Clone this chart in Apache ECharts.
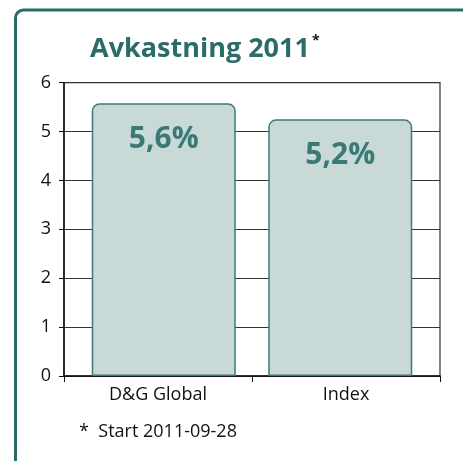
<!DOCTYPE html>
<html><head><meta charset="utf-8">
<script src="https://cdn.jsdelivr.net/npm/echarts@6/dist/echarts.min.js"></script>
<style>html,body{margin:0;padding:0;background:#fff}#c{width:463px;height:461px}</style>
</head><body><div id="c"></div>
<script>
var categories = ['D&G Global', 'Index'];
var fundValues = [5.58, '-'];
var indexValues = ['-', 5.25];
var valueLabels = ['5,6%', '5,2%'];
var yTicks = [0, 1, 2, 3, 4, 5, 6];
var titleText = 'Avkastning 2011';
var footnote = '*  Start 2011-09-28';

var teal = '#2b6b68';
var FONT = 'Open Sans';
var chart = echarts.init(document.getElementById('c'));
function barSeries(data) {
  return {
    type: 'bar', data: data, barWidth: 144, barGap: '-108%',
    itemStyle: { color: '#c9d9d8', borderColor: '#3d7a76', borderWidth: 1.5, borderRadius: [7, 7, 0, 0] },
    label: { show: true, position: 'insideTop', distance: 21, color: '#3a7a76', fontFamily: FONT, fontWeight: 'bold', fontSize: 30,
      formatter: function (p) { return valueLabels[p.dataIndex]; } },
    animation: false
  };
}
chart.setOption({
  animation: false,
  graphic: [
    { type: 'rect', shape: { x: 15.5, y: 10, width: 520, height: 520, r: 8 }, style: { fill: 'none', stroke: teal, lineWidth: 3 } },
    { type: 'text', left: 90, top: 34, style: { text: '{t|' + titleText + '}{s|*}', rich: {
        t: { fontFamily: FONT, fontWeight: 'bold', fontSize: 27, fill: teal },
        s: { fontFamily: FONT, fontWeight: 'bold', fontSize: 14, fill: '#111', verticalAlign: 'top', padding: [0, 0, 16, 2] } } } },
    { type: 'text', left: 79, top: 423, style: { text: footnote, fontFamily: FONT, fontSize: 18, fill: '#111' } }
  ],
  grid: { left: 64, right: 23, top: 82.7, bottom: 85, show: true, borderColor: '#333', borderWidth: 1.2, backgroundColor: 'transparent' },
  xAxis: { type: 'category', data: categories,
    axisLine: { lineStyle: { color: '#111', width: 1.5 } },
    axisTick: { show: true, length: 6, lineStyle: { color: '#111' } },
    axisLabel: { color: '#111', fontFamily: FONT, fontSize: 18, margin: 10 } },
  yAxis: { type: 'value', min: yTicks[0], max: yTicks[yTicks.length - 1], interval: 1,
    axisLine: { show: true, lineStyle: { color: '#111', width: 1.5 } },
    axisTick: { show: true, length: 5, lineStyle: { color: '#111' } },
    splitLine: { lineStyle: { color: '#333', width: 1.2 } },
    axisLabel: { color: '#111', fontFamily: FONT, fontSize: 18, margin: 13 } },
  series: [barSeries(fundValues), barSeries(indexValues)]
});
</script></body></html>
